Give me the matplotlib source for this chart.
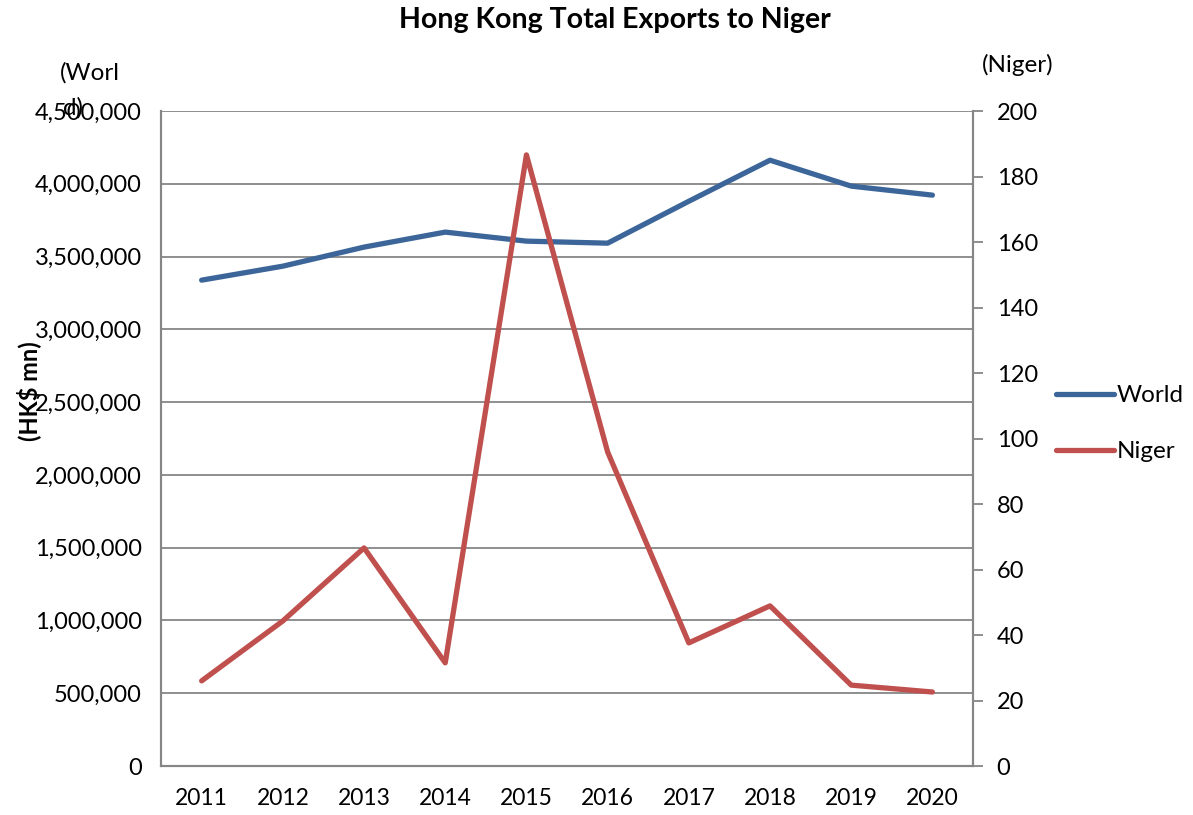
import matplotlib
matplotlib.use("Agg")
import matplotlib.pyplot as plt
from matplotlib.ticker import FuncFormatter, MultipleLocator

plt.rcParams['font.family'] = ['Lato', 'DejaVu Sans']

years = ['2011', '2012', '2013', '2014', '2015', '2016', '2017', '2018', '2019', '2020']
world = [3338000, 3434000, 3565000, 3668000, 3606000, 3592000, 3880000, 4162000, 3984000, 3922000]
niger = [26.0, 44.3, 66.6, 31.5, 186.6, 95.9, 37.6, 48.9, 24.7, 22.6]

fig = plt.figure(figsize=(11.93, 8.15), dpi=100)
ax = fig.add_axes([0.135, 0.0601, 0.6806, 0.8037])
ax2 = ax.twinx()

x = list(range(len(years)))
grid_c = '#868686'

l1, = ax.plot(x, world, color='#3C6699', lw=3.8, solid_capstyle='round', label='World')
l2, = ax2.plot(x, niger, color='#C0504D', lw=3.8, solid_capstyle='round', label='Niger')

ax.set_xlim(-0.5, len(years) - 0.5)
ax.set_ylim(0, 4500000)
ax2.set_ylim(0, 200)
ax.yaxis.set_major_locator(MultipleLocator(500000))
ax2.yaxis.set_major_locator(MultipleLocator(20))
ax.yaxis.set_major_formatter(FuncFormatter(lambda v, p: f'{int(v):,}'))
ax.set_xticks(x)
ax.set_xticklabels(years)

ax.grid(axis='y', color=grid_c, lw=1.3)
ax.set_axisbelow(True)
for a in (ax, ax2):
    for s in a.spines.values():
        s.set_color(grid_c)
        s.set_linewidth(1.5)
    a.spines['top'].set_visible(False)

ax.tick_params(axis='y', length=0, labelsize=17, pad=14)
ax.tick_params(axis='x', length=0, labelsize=16.5, pad=16)
ax2.tick_params(axis='y', length=7, width=1.3, color=grid_c, labelsize=17, pad=10)

fig.text(0.515, 0.975, 'Hong Kong Total Exports to Niger', ha='center', va='center',
         fontsize=20.5, fontweight='bold')
fig.text(0.075, 0.911, '(Worl', ha='center', va='center', fontsize=17.5)
fig.text(0.061, 0.868, 'd)', ha='center', va='center', fontsize=17.5)
fig.text(0.024, 0.52, '(HK$ mn)', ha='center', va='center', fontsize=17,
         fontweight='bold', rotation=90)
fig.text(0.853, 0.92, '(Niger)', ha='center', va='center', fontsize=17.5)

fig.legend(handles=[l1, l2], labels=['World', 'Niger'], loc='center left',
           bbox_to_anchor=(0.877, 0.48), frameon=False, fontsize=17.5,
           handlelength=2.4, handletextpad=0.1, labelspacing=1.45, borderaxespad=0)

fig.savefig('out.png', dpi=100)
